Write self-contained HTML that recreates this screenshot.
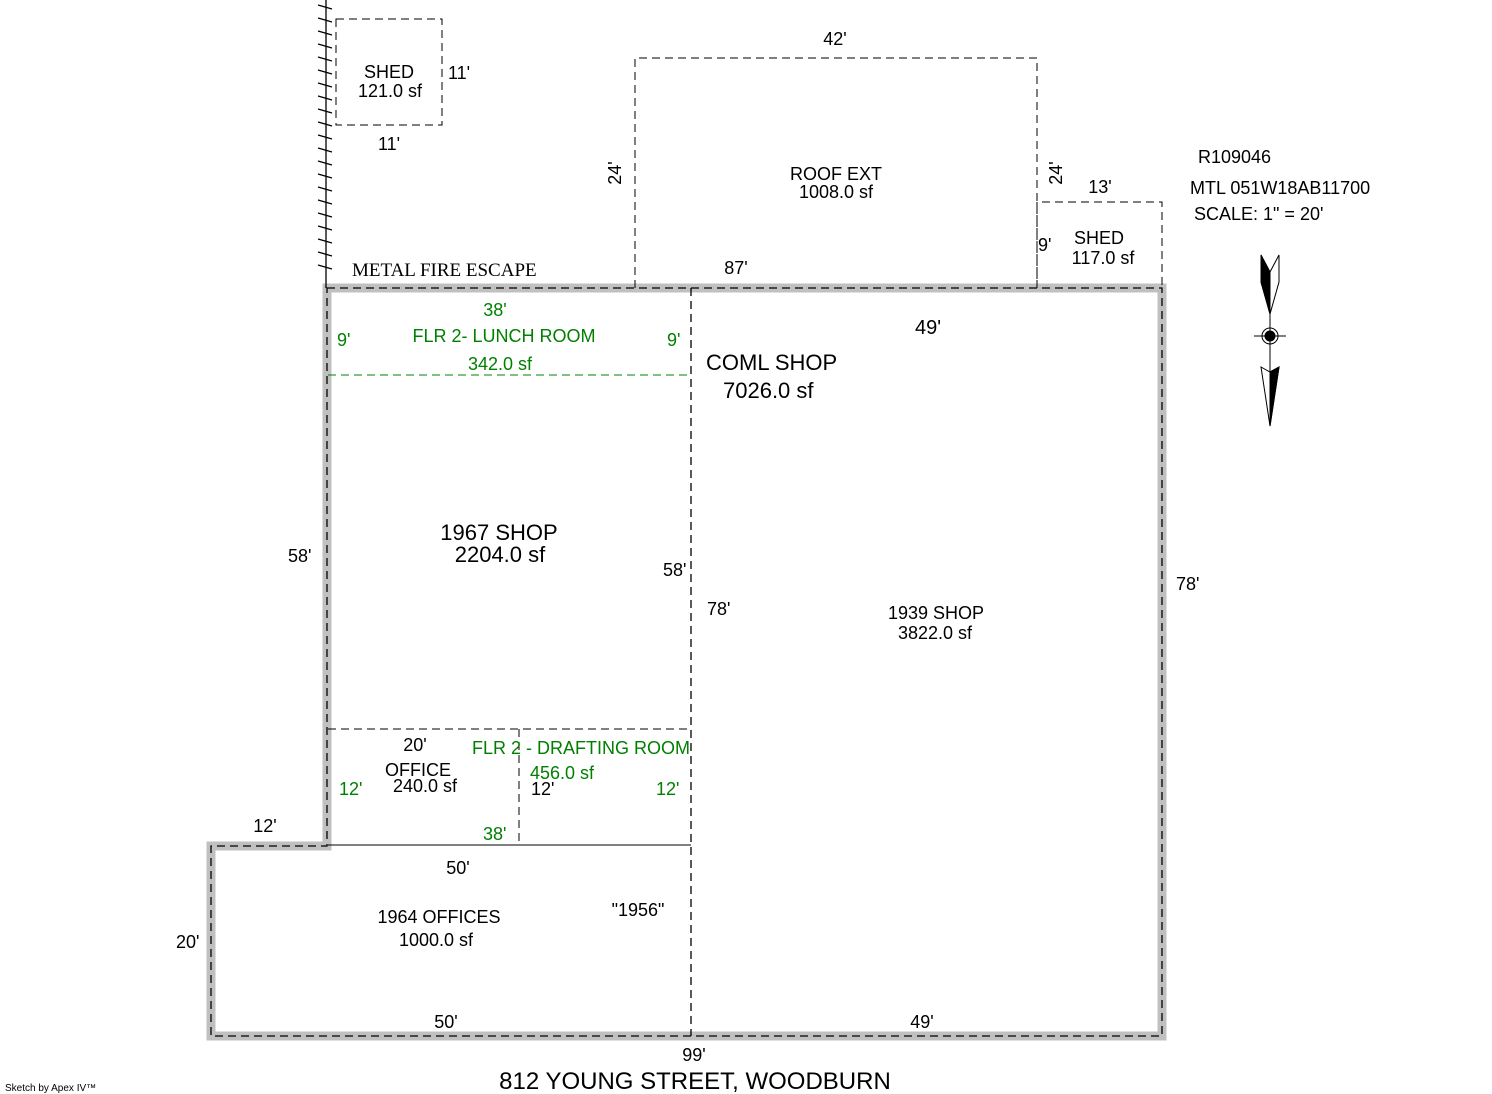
<!DOCTYPE html>
<html><head><meta charset="utf-8"><style>
html,body{margin:0;padding:0;background:#fff;}
svg{display:block;}
text{font-family:"Liberation Sans",Arial,sans-serif;font-size:18px;fill:#000;}
.g{fill:#008000;}
.c{text-anchor:middle;}
</style></head><body>
<svg width="1492" height="1094" viewBox="0 0 1492 1094" xmlns="http://www.w3.org/2000/svg">
<path d="M327,288 H1162 V1036 H211 V846 H327 Z" fill="none" stroke="#c0c0c0" stroke-width="9"/>
<path d="M327,288 H1162 V1036 H211 V846 H327 Z" fill="none" stroke="#000" stroke-width="1.3" stroke-dasharray="8,5"/>
<line x1="326" y1="0" x2="326" y2="288" stroke="#000" stroke-width="1.3"/>
<g stroke="#000" stroke-width="1.3">
<path d="M318,5 L332,9 M318,18 L332,22 M318,31 L332,35 M318,44 L332,48 M318,57 L332,61 M318,70 L332,74 M318,83 L332,87 M318,96 L332,100 M318,109 L332,113 M318,122 L332,126 M318,135 L332,139 M318,148 L332,152 M318,161 L332,165 M318,174 L332,178 M318,187 L332,191 M318,200 L332,204 M318,213 L332,217 M318,226 L332,230 M318,239 L332,243 M318,252 L332,256 M318,265 L332,269"/>
</g>
<g fill="none" stroke="#000" stroke-width="1" stroke-dasharray="8,5">
<rect x="336" y="19" width="106" height="106"/>
<path d="M635,288 V58 H1037 V288"/>
<path d="M1037,288 V202 H1162 V288"/>
<line x1="691" y1="288" x2="691" y2="1036" stroke-width="1.3"/>
<line x1="519" y1="729" x2="519" y2="846"/>
<line x1="328" y1="729" x2="691" y2="729"/>
</g>
<line x1="328" y1="375" x2="691" y2="375" stroke="#008000" stroke-width="1" stroke-dasharray="8,5"/>
<line x1="328" y1="845" x2="691" y2="845" stroke="#000" stroke-width="1"/>
<g stroke="#000" stroke-width="1" fill="none">
<line x1="1270" y1="300" x2="1270" y2="426"/>
<line x1="1254" y1="336" x2="1286" y2="336"/>
<circle cx="1270" cy="336" r="8"/>
<circle cx="1270" cy="336" r="5" fill="#000"/>
<path d="M1261,255 L1270,272 L1279,255 L1279,282 L1270,314 L1261,282 Z" fill="#fff"/>
<path d="M1261,255 L1270,272 L1270,314 L1261,282 Z" fill="#000"/>
<path d="M1261,367 L1270,372 L1279,367 L1270,426 Z" fill="#fff"/>
<path d="M1270,372 L1279,367 L1270,426 Z" fill="#000"/>
</g>
<text class="c" x="389" y="78">SHED</text>
<text class="c" x="390" y="97">121.0 sf</text>
<text x="448" y="79">11'</text>
<text class="c" x="389" y="150">11'</text>
<text class="c" x="835" y="45">42'</text>
<text class="c" x="836" y="180">ROOF EXT</text>
<text class="c" x="836" y="198">1008.0 sf</text>
<text transform="translate(621,173) rotate(-90)" class="c">24'</text>
<text transform="translate(1062,173) rotate(-90)" class="c">24'</text>
<text class="c" x="1100" y="193">13'</text>
<text x="1038" y="251">9'</text>
<text class="c" x="1099" y="244">SHED</text>
<text class="c" x="1103" y="264">117.0 sf</text>
<text x="1198" y="163">R109046</text>
<text x="1190" y="194">MTL 051W18AB11700</text>
<text x="1194" y="220">SCALE: 1" = 20'</text>
<text x="352" y="276" style="font-family:'Liberation Serif',serif;font-size:19px">METAL FIRE ESCAPE</text>
<text class="c" x="736" y="274">87'</text>
<text class="c g" x="495" y="316">38'</text>
<text class="c g" x="504" y="342">FLR 2- LUNCH ROOM</text>
<text class="c g" x="500" y="370">342.0 sf</text>
<text x="337" y="346" class="g">9'</text>
<text x="667" y="346" class="g">9'</text>
<text class="c" x="928" y="334" style="font-size:20px">49'</text>
<text x="706" y="370" style="font-size:22px">COML SHOP</text>
<text x="723" y="398" style="font-size:22px">7026.0 sf</text>
<text class="c" x="499" y="540" style="font-size:22px">1967 SHOP</text>
<text class="c" x="500" y="562" style="font-size:22px">2204.0 sf</text>
<text x="288" y="562">58'</text>
<text x="663" y="576">58'</text>
<text x="707" y="615">78'</text>
<text class="c" x="936" y="619">1939 SHOP</text>
<text class="c" x="935" y="639">3822.0 sf</text>
<text x="1176" y="590">78'</text>
<text class="c" x="415" y="751">20'</text>
<text class="g" x="472" y="754">FLR 2 - DRAFTING ROOM</text>
<text class="c" x="418" y="776">OFFICE</text>
<text class="c" x="425" y="792">240.0 sf</text>
<text class="g" x="530" y="779">456.0 sf</text>
<text class="g" x="339" y="795">12'</text>
<text x="531" y="795">12'</text>
<text class="g" x="656" y="795">12'</text>
<text class="g" x="483" y="840">38'</text>
<text class="c" x="265" y="832">12'</text>
<text class="c" x="458" y="874">50'</text>
<text class="c" x="439" y="923">1964 OFFICES</text>
<text class="c" x="436" y="946">1000.0 sf</text>
<text class="c" x="638" y="916">"1956"</text>
<text x="176" y="948">20'</text>
<text class="c" x="446" y="1028">50'</text>
<text class="c" x="922" y="1028">49'</text>
<text class="c" x="694" y="1061">99'</text>
<text class="c" x="695" y="1089" style="font-size:24px">812 YOUNG STREET, WOODBURN</text>
<text x="5" y="1091" style="font-size:10px">Sketch by Apex IV™</text>
</svg>
</body></html>
